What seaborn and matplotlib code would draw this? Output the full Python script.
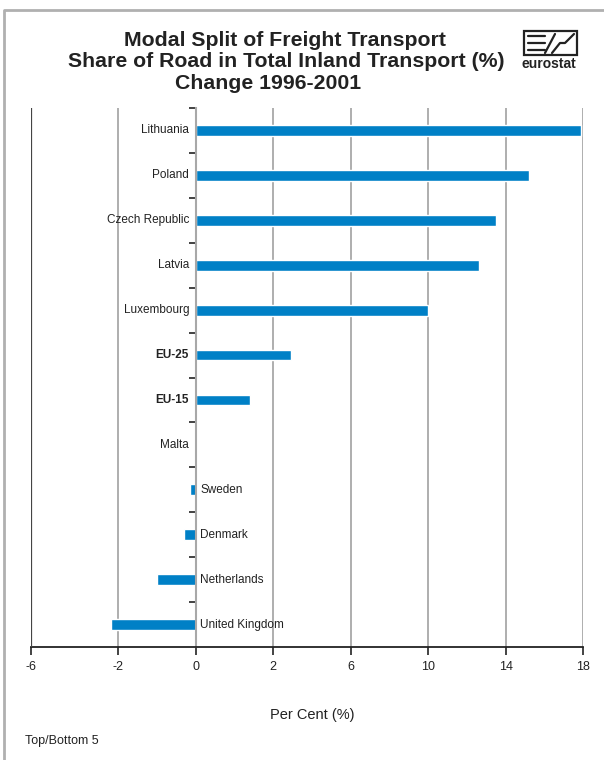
import numpy as np
import pandas as pd
import matplotlib
matplotlib.use('Agg')
import matplotlib.pyplot as plt
from matplotlib.lines import Line2D
from matplotlib.patches import Rectangle
import seaborn as sns

# data
countries = ['Lithuania', 'Poland', 'Czech Republic', 'Latvia', 'Luxembourg',
             'EU-25', 'EU-15', 'Malta', 'Sweden', 'Denmark', 'Netherlands',
             'United Kingdom']
changes = [17.9, 15.2, 13.5, 12.6, 10.0, 2.9, 1.4, 0.0, -0.15, -0.3, -1.0, -2.3]
bold_labels = ['EU-25', 'EU-15']
x_ticks = [-6, -2, 0, 2, 6, 10, 14, 18]

BAR = '#0080c6'
GRID = '#a8a8a8'

sns.set_style('white')
plt.rcParams['font.family'] = ['Liberation Sans', 'DejaVu Sans']

df = pd.DataFrame({'country': countries, 'change': changes})

fig = plt.figure(figsize=(6.04, 7.6), dpi=100)
ax = fig.add_axes([31 / 604, 1 - 647 / 760, (583 - 31) / 604, (647 - 108) / 760])

sns.barplot(data=df, x='change', y='country', orient='h', color=BAR,
            saturation=1, width=0.24, ax=ax)

# the original axis is piecewise: equal spacing between the listed ticks
tick_px = [0, 87, 165, 242, 320, 397, 475, 552]
fwd = lambda v: np.interp(v, x_ticks, tick_px)
inv = lambda p: np.interp(p, tick_px, x_ticks)
ax.set_xscale('function', functions=(fwd, inv))
ax.set_xlim(-6, 18)
ax.set_xticks(x_ticks)
ax.set_xticklabels([str(t) for t in x_ticks])
ax.set_ylim(len(countries) - 0.5, -0.5)

ax.set_xlabel('')
ax.set_ylabel('')
ax.grid(axis='x', color=GRID, lw=1.3)
ax.grid(axis='y', visible=False)
ax.set_axisbelow(True)

# left spine acts as the zero line, category separators as minor ticks
ax.spines['left'].set_position(('data', 0))
ax.spines['left'].set_color(GRID)
ax.spines['left'].set_linewidth(1.5)
ax.spines['top'].set_visible(False)
ax.spines['right'].set_visible(False)
ax.spines['bottom'].set_color('#222222')
ax.spines['bottom'].set_linewidth(1.3)
ax.axvline(-6, color='#444444', lw=1.6, zorder=3)

ax.set_yticks(range(len(countries)))
ax.set_yticklabels([])
ax.set_yticks(np.arange(-0.5, len(countries) - 1, 1), minor=True)
ax.tick_params(axis='y', which='major', length=0)
ax.tick_params(axis='y', which='minor', left=True, length=5, width=1.2,
               color='#222222', direction='out')
ax.tick_params(axis='x', which='major', bottom=True, length=6, width=1.2,
               color='#222222', direction='out', labelsize=9, pad=4,
               labelcolor='#222222')

for i, (name, val) in enumerate(zip(countries, changes)):
    weight = 'bold' if name in bold_labels else 'normal'
    if val >= 0:
        ax.annotate(name, (0, i), xytext=(-5, 0), textcoords='offset points',
                    ha='right', va='center', fontsize=8.5, weight=weight,
                    color='#222222')
    else:
        ax.annotate(name, (0, i), xytext=(3, 0), textcoords='offset points',
                    ha='left', va='center', fontsize=8.5, weight=weight,
                    color='#222222')

# titles
fig.text(285 / 604, 1 - 46 / 760, 'Modal Split of Freight Transport',
         ha='center', va='baseline', fontsize=15.3, weight='bold', color='#222222')
fig.text(286 / 604, 1 - 67 / 760, 'Share of Road in Total Inland Transport (%)',
         ha='center', va='baseline', fontsize=15.3, weight='bold', color='#222222')
fig.text(268 / 604, 1 - 89 / 760, 'Change 1996-2001',
         ha='center', va='baseline', fontsize=15.3, weight='bold', color='#222222')

fig.text(312 / 604, 1 - 715 / 760, 'Per Cent (%)', ha='center', va='center',
         fontsize=10.5, color='#222222')
fig.text(25 / 604, 1 - 741 / 760, 'Top/Bottom 5', ha='left', va='center',
         fontsize=9, color='#222222')

# eurostat logo
fig.patches.append(Rectangle((524 / 604, 1 - 55 / 760), 53 / 604, 24 / 760,
                             transform=fig.transFigure, fill=False,
                             edgecolor='#222222', lw=1.6))
for y in (36, 43, 50):
    fig.lines.append(Line2D([528 / 604, 545 / 604], [1 - y / 760, 1 - y / 760],
                            transform=fig.transFigure, color='#222222', lw=1.6))
fig.lines.append(Line2D([545 / 604, 555 / 604], [1 - 53 / 760, 1 - 34 / 760],
                        transform=fig.transFigure, color='#222222', lw=1.6))
fig.lines.append(Line2D([552 / 604, 560 / 604, 565 / 604, 574 / 604],
                        [1 - 53 / 760, 1 - 43 / 760, 1 - 43 / 760, 1 - 34 / 760],
                        transform=fig.transFigure, color='#222222', lw=1.6))
fig.text(549 / 604, 1 - 64 / 760, 'eurostat', ha='center', va='center',
         fontsize=10, weight='bold', color='#222222')

# frame around the chart
fig.lines.append(Line2D([4 / 604, 4 / 604, 1.0], [0.0, 1 - 10 / 760, 1 - 10 / 760],
                        transform=fig.transFigure, color='#b0b0b0', lw=2))

fig.savefig('out.png', dpi=100)
